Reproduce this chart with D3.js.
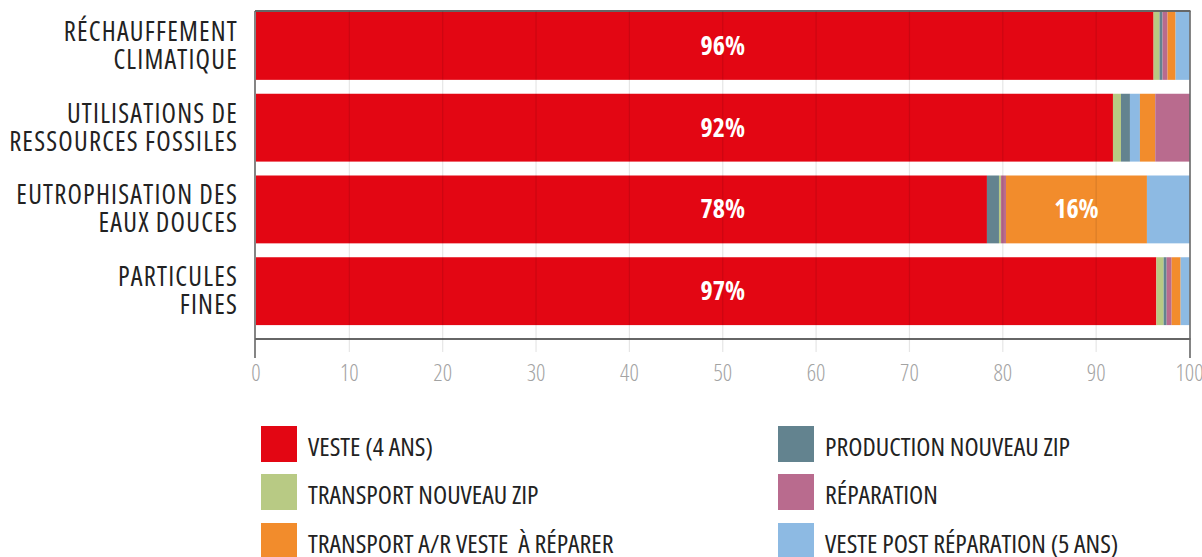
<!DOCTYPE html>
<html>
<head>
<meta charset="utf-8">
<script src="https://cdn.jsdelivr.net/npm/d3@7"></script>
<style>
  body { margin: 0; background: #fff; }
  svg text { font-family: "Open Sans", sans-serif; font-stretch: 75%; }
  svg text.cat { letter-spacing: 1.2px; }
</style>
</head>
<body>
<svg id="chart" width="1202" height="557"></svg>
<script>
// categories (each label on two lines)
const categories = ["RÉCHAUFFEMENT CLIMATIQUE", "UTILISATIONS DE RESSOURCES FOSSILES", "EUTROPHISATION DES EAUX DOUCES", "PARTICULES FINES"];
const categoryLines = [["RÉCHAUFFEMENT", "CLIMATIQUE"], ["UTILISATIONS DE", "RESSOURCES FOSSILES"], ["EUTROPHISATION DES", "EAUX DOUCES"], ["PARTICULES", "FINES"]];

const seriesNames = ["VESTE (4 ANS)", "PRODUCTION NOUVEAU ZIP", "TRANSPORT NOUVEAU ZIP", "RÉPARATION", "TRANSPORT A/R VESTE  À RÉPARER", "VESTE POST RÉPARATION (5 ANS)"];
const seriesColors = ["#e30613", "#63838f", "#b8ca84", "#b96b8e", "#f28c2c", "#8dbae3"];

// share of each stage, in %, per category
const veste = [96.15, 91.8, 78.3, 96.45];
const productionZip = [0.32, 0.96, 1.29, 0.32];
const transportZip = [0.64, 0.86, 0.21, 0.78];
const reparation = [0.54, 3.72, 0.54, 0.54];
const transportAR = [0.86, 1.64, 15.1, 0.96];
const vestePost = [1.5, 1.07, 4.6, 0.96];
const seriesValues = [veste, productionZip, transportZip, reparation, transportAR, vestePost];

// stacking order of series inside each bar
const stackOrder = [[0, 2, 1, 3, 4, 5], [0, 2, 1, 5, 4, 3], [0, 1, 2, 3, 4, 5], [0, 2, 1, 3, 4, 5]];

// value labels: [category, series, text]
const valueLabels = [[0, 0, "96%"], [1, 0, "92%"], [2, 0, "78%"], [3, 0, "97%"], [2, 4, "16%"]];

const xTicks = [0, 10, 20, 30, 40, 50, 60, 70, 80, 90, 100];

const svg = d3.select("#chart");
const plotLeft = 256, plotRight = 1189.5, plotTop = 12, axisY = 339;

const x = d3.scaleLinear().domain([0, 100]).range([plotLeft, plotRight]);
const y = d3.scaleBand().domain(d3.range(categories.length)).range([plotTop, axisY])
  .paddingInner(0.17).paddingOuter(0.085).align(0);

// build segments
const segments = [];
categories.forEach(function (c, ci) {
  let acc = 0;
  stackOrder[ci].forEach(function (si) {
    const v = seriesValues[si][ci];
    segments.push({ ci: ci, si: si, x0: acc, x1: acc + v });
    acc += v;
  });
});

svg.append("g").selectAll("rect").data(segments).join("rect")
  .attr("x", d => x(d.x0))
  .attr("y", d => y(d.ci))
  .attr("width", d => x(d.x1) - x(d.x0))
  .attr("height", y.bandwidth())
  .attr("fill", d => seriesColors[d.si]);

// grid lines (drawn over bars, faint)
svg.append("g").selectAll("line").data(xTicks.slice(1, -1)).join("line")
  .attr("x1", d => x(d)).attr("x2", d => x(d))
  .attr("y1", plotTop - 1).attr("y2", axisY + 13)
  .attr("stroke", "#000").attr("stroke-opacity", 0.1).attr("stroke-width", 1.2);

// frame
svg.append("line").attr("x1", x(0) - 1).attr("x2", x(100) + 1).attr("y1", plotTop - 1).attr("y2", plotTop - 1)
  .attr("stroke", "#333").attr("stroke-width", 1.5);
svg.append("line").attr("x1", x(0) - 1).attr("x2", x(100) + 1).attr("y1", axisY).attr("y2", axisY)
  .attr("stroke", "#333").attr("stroke-width", 1.5);
[0, 100].forEach(function (t) {
  svg.append("line").attr("x1", x(t) + (t ? 0.5 : -1)).attr("x2", x(t) + (t ? 0.5 : -1))
    .attr("y1", plotTop - 1).attr("y2", axisY + 19)
    .attr("stroke", "#666").attr("stroke-width", 1.6);
});

// tick labels
svg.append("g").selectAll("text").data(xTicks).join("text")
  .attr("x", d => x(d)).attr("y", axisY + 42)
  .attr("text-anchor", "middle")
  .attr("font-size", 23).attr("font-weight", 300).attr("fill", "#a3a3a3")
  .text(d => d);

// category labels
const catG = svg.append("g").selectAll("text").data(categoryLines).join("text")
  .attr("class", "cat")
  .attr("text-anchor", "end")
  .attr("font-size", 26.5).attr("fill", "#222");
catG.each(function (lines, ci) {
  const cy = y(ci) + y.bandwidth() / 2;
  d3.select(this).selectAll("tspan").data(lines).join("tspan")
    .attr("x", 238)
    .attr("y", (d, i) => cy + (i - 0.5) * 28 + 9)
    .text(d => d);
});

// value labels
svg.append("g").selectAll("text").data(valueLabels).join("text")
  .attr("x", function (d) {
    if (d[1] === 0) return x(50);
    const s = segments.find(s => s.ci === d[0] && s.si === d[1]);
    return x((s.x0 + s.x1) / 2);
  })
  .attr("y", d => y(d[0]) + y.bandwidth() / 2 + 9)
  .attr("text-anchor", "middle")
  .attr("font-size", 26).attr("font-weight", "bold").attr("fill", "#fff")
  .text(d => d[2]);

// legend: two columns, read across rows
const legendCols = [261, 778], legendRows = [426, 474, 523];
const legend = svg.append("g").selectAll("g").data(seriesNames).join("g")
  .attr("transform", (d, i) => "translate(" + legendCols[i % 2] + "," + legendRows[Math.floor(i / 2)] + ")");
legend.append("rect").attr("width", 36).attr("height", 36).attr("fill", (d, i) => seriesColors[i]);
legend.append("text").attr("x", 47).attr("y", 30)
  .attr("font-size", 26).attr("fill", "#222")
  .style("white-space", "pre")
  .text(d => d);
</script>
</body>
</html>
